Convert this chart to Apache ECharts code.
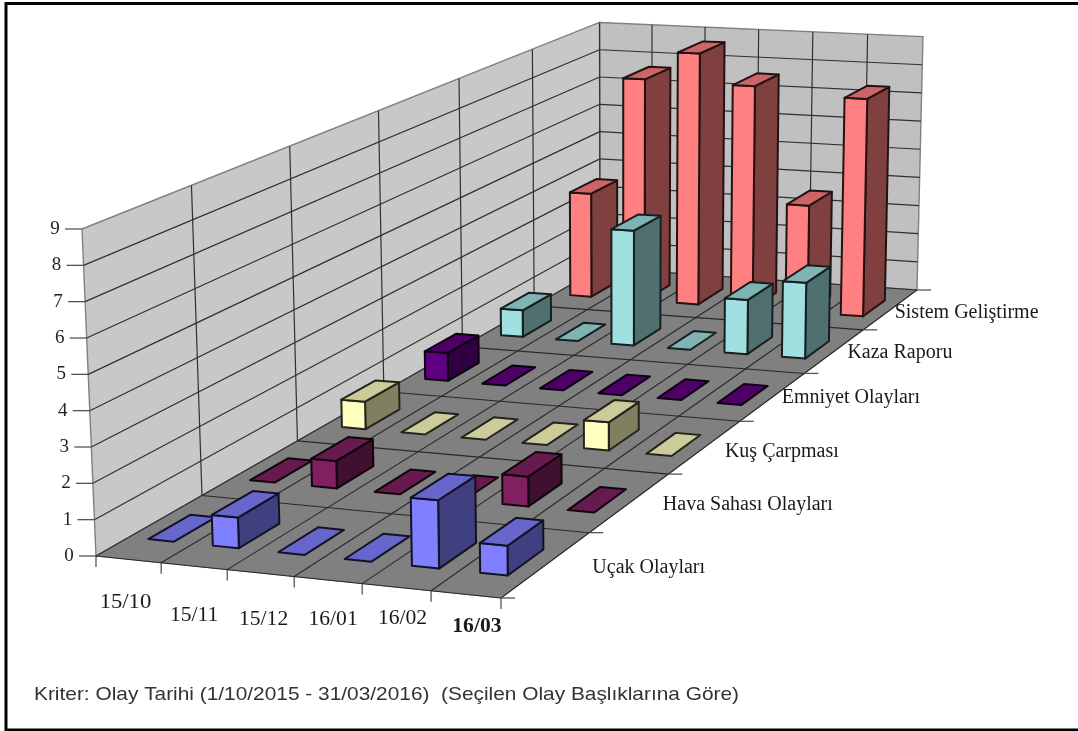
<!DOCTYPE html>
<html>
<head>
<meta charset="utf-8">
<style>
html,body{margin:0;padding:0;background:#fff}
#chart{width:1078px;height:731px}
</style>
<script src="https://cdn.jsdelivr.net/npm/echarts@6/dist/echarts.min.js"></script>
</head>
<body>
<div id="chart"></div>
<script>
// Monthly incident counts per category, front row first.
const months = ['15/10', '15/11', '15/12', '16/01', '16/02', '16/03'];
const rows = ['Uçak Olayları', 'Hava Sahası Olayları', 'Kuş Çarpması', 'Emniyet Olayları', 'Kaza Raporu', 'Sistem Geliştirme'];
const ucak = [0, 0.85, 0, 0, 1.85, 0.8];
const hava = [0, 0.8, 0, 0, 0.85, 0];
const kus = [0.85, 0, 0, 0, 0.85, 0];
const emniyet = [0.9, 0, 0, 0, 0, 0];
const kaza = [0.9, 0, 3.85, 0, 1.8, 2.5];
const sistem = [3.65, 7.8, 8.8, 7.75, 3.7, 7.5];
const rowValues = [ucak, hava, kus, emniyet, kaza, sistem];
const rowColors = ['#8080ff', '#802060', '#ffffc0', '#600080', '#a0e0e0', '#ff8080'];
const yTicks = [0, 1, 2, 3, 4, 5, 6, 7, 8, 9];
const caption = 'Kriter: Olay Tarihi (1/10/2015 - 31/03/2016)  (Seçilen Olay Başlıklarına Göre)';

// Camera: floor corners on screen, front-left, front-right, back-right, back-left.
const P = [[96, 556], [501, 598], [917, 290], [600, 268]];
const FULL_HEIGHT = 327;            // on-screen height of the axis at the front-left corner
const VANISH = [622, 12840];        // where the vertical edges converge
const BAR_FRACTION = 0.4;

const sx = P[0][0] - P[1][0] + P[2][0] - P[3][0], sy = P[0][1] - P[1][1] + P[2][1] - P[3][1];
const dx1 = P[1][0] - P[2][0], dx2 = P[3][0] - P[2][0], dy1 = P[1][1] - P[2][1], dy2 = P[3][1] - P[2][1];
const det = dx1 * dy2 - dx2 * dy1;
const hg = (sx * dy2 - dx2 * sy) / det, hh = (dx1 * sy - sx * dy1) / det;
const ha = P[1][0] - P[0][0] + hg * P[1][0], hb = P[3][0] - P[0][0] + hh * P[3][0];
const hd = P[1][1] - P[0][1] + hg * P[1][1], he = P[3][1] - P[0][1] + hh * P[3][1];

// u: along the months, v: into the rows, w: share of the value axis (all 0..1).
function project(u, v, w) {
  const q = 1 + hg * u + hh * v;
  const x = (ha * u + hb * v + P[0][0]) / q;
  const y = (hd * u + he * v + P[0][1]) / q;
  const h = FULL_HEIGHT * w / q;
  return [x + (x - VANISH[0]) / (VANISH[1] - y) * h, y - h];
}

function shade(hex, k) {
  const n = parseInt(hex.slice(1), 16);
  const c = [n >> 16 & 255, n >> 8 & 255, n & 255].map(function (a) { return Math.round(a * k); });
  return 'rgb(' + c.join(',') + ')';
}

// Grid box that carries the hidden axes; scales are read back as 0..1 fractions.
const GRID = { left: 0, top: 0, width: 1000, height: 700 };
function fractions(api, month, value) {
  const p = api.coord([month, value]);
  return [(p[0] - GRID.left) / GRID.width, 1 - (p[1] - GRID.top) / GRID.height];
}

function line(a, b, color, width) {
  return { type: 'line', silent: true, shape: { x1: a[0], y1: a[1], x2: b[0], y2: b[1] }, style: { stroke: color, lineWidth: width } };
}
function poly(points, fill, stroke, width) {
  return { type: 'polygon', silent: true, shape: { points: points }, style: { fill: fill, stroke: stroke, lineWidth: width, lineJoin: 'round' } };
}
function text(x, y, str, font, align, color, stretch) {
  return {
    type: 'text', silent: true, x: x, y: y, scaleX: stretch || 1,
    style: { text: str, font: font, fill: color || '#1a1a1a', align: align, verticalAlign: 'middle' }
  };
}

function renderFrame(params, api) {
  const ch = [];
  const grid = '#303030';
  ch.push(poly([project(0, 0, 0), project(0, 1, 0), project(0, 1, 1), project(0, 0, 1)], '#c8c8c8', '#808080', 1.4));
  ch.push(poly([project(0, 1, 0), project(1, 1, 0), project(1, 1, 1), project(0, 1, 1)], '#c0c0c0', '#808080', 1.4));
  ch.push(poly([project(0, 0, 0), project(1, 0, 0), project(1, 1, 0), project(0, 1, 0)], '#808080', '#808080', 1));

  const n = months.length, m = rows.length;
  yTicks.forEach(function (t) {
    const w = fractions(api, 0, t)[1];
    if (t > 0 && t < yTicks.length - 1) {
      ch.push(line(project(0, 0, w), project(0, 1, w), grid, 1.2));
      ch.push(line(project(0, 1, w), project(1, 1, w), grid, 1.2));
    }
    const a = project(0, 0, w);
    ch.push(line([a[0] - 17, a[1]], a, '#555', 1.3));
    ch.push(text(a[0] - 27, a[1], String(t), '19px "Liberation Serif"', 'center', '#222'));
  });
  for (let i = 0; i <= n; i++) {
    const u = i / n;
    if (i < n) ch.push(line(project(u, 1, 0), project(u, 1, 1), grid, 1.2));
    ch.push(line(project(u, 0, 0), project(u, 1, 0), '#282828', 1.1));
    const b = project(u, 0, 0);
    ch.push(line(b, [b[0], b[1] + 11], '#555', 1.3));
  }
  for (let j = 0; j <= m; j++) {
    const v = j / m;
    if (j > 0 && j < m) ch.push(line(project(0, v, 0), project(0, v, 1), grid, 1.2));
    ch.push(line(project(0, v, 0), project(1, v, 0), '#282828', 1.1));
    const b = project(1, v, 0);
    ch.push(line(b, [b[0] + 14, b[1]], '#555', 1.3));
  }
  return { type: 'group', children: ch };
}

function barRenderer(rowIndex) {
  const base = rowColors[rowIndex];
  return function (params, api) {
    const month = api.value(0), value = api.value(1);
    const uc = fractions(api, month, 0)[0];
    const w = fractions(api, month, value)[1];
    const half = BAR_FRACTION / 2;
    const u0 = uc - half / months.length, u1 = uc + half / months.length;
    const vc = (rowIndex + 0.5) / rows.length;
    const v0 = vc - half / rows.length, v1 = vc + half / rows.length;
    const edge = shade(base, 0.14);
    const top = [project(u0, v0, w), project(u1, v0, w), project(u1, v1, w), project(u0, v1, w)];
    const ch = [];
    if (value > 0) {
      ch.push(poly([project(u1, v0, 0), project(u1, v1, 0), project(u1, v1, w), project(u1, v0, w)], shade(base, 0.5), edge, 2));
      ch.push(poly([project(u0, v0, 0), project(u1, v0, 0), project(u1, v0, w), project(u0, v0, w)], base, edge, 2));
    }
    ch.push(poly(top, shade(base, 0.8), edge, 2));
    return { type: 'group', children: ch };
  };
}

function renderLabels(params, api) {
  const ch = [];
  const monthFonts = ['21px', '20px', '20px', '20px', '20px', 'bold 20px'];
  const monthNudge = [[-3, 43], [0, 50], [3, 47], [5, 40], [6, 32], [11, 32]];
  months.forEach(function (name, i) {
    const p = project(fractions(api, i, 0)[0], 0, 0);
    ch.push(text(p[0] + monthNudge[i][0], p[1] + monthNudge[i][1], name, monthFonts[i] + ' "Liberation Serif"', 'center', '#1a1a1a', 1.08));
  });
  const rowNudge = [[46, 3], [33, 2], [20, 5], [9, 1], [13, 2], [4, 3]];
  rows.forEach(function (name, j) {
    const p = project(1, (j + 0.5) / rows.length, 0);
    ch.push(text(p[0] + rowNudge[j][0], p[1] + rowNudge[j][1], name, '20px "Liberation Serif"', 'left'));
  });
  ch.push(text(34, 695, caption, '19px "Liberation Sans"', 'left', '#333', 1.098));
  return { type: 'group', children: ch };
}

const series = [{
  type: 'custom', coordinateSystem: 'cartesian2d', silent: true, clip: false,
  data: [[0, 0]], renderItem: renderFrame, z: 1
}];
for (let r = rows.length - 1; r >= 0; r--) {
  series.push({
    type: 'custom', name: rows[r], coordinateSystem: 'cartesian2d', silent: true, clip: false,
    data: rowValues[r].map(function (v, i) { return [i, v]; }),
    renderItem: barRenderer(r), z: 2
  });
}
series.push({
  type: 'custom', coordinateSystem: 'cartesian2d', silent: true, clip: false,
  data: [[0, 0]], renderItem: renderLabels, z: 3
});

const chart = echarts.init(document.getElementById('chart'), null, { renderer: 'canvas' });
chart.setOption({
  animation: false,
  backgroundColor: '#ffffff',
  grid: { left: GRID.left, top: GRID.top, width: GRID.width, height: GRID.height, show: false },
  xAxis: { type: 'category', data: months, show: false },
  yAxis: { type: 'value', min: 0, max: 9, interval: 1, show: false },
  // frame around the figure; its right side runs off the page
  graphic: [{ type: 'rect', shape: { x: 6, y: 3.5, width: 1100, height: 726.5 }, style: { fill: 'none', stroke: '#000', lineWidth: 3 }, silent: true }],
  series: series
});
</script>
</body>
</html>
